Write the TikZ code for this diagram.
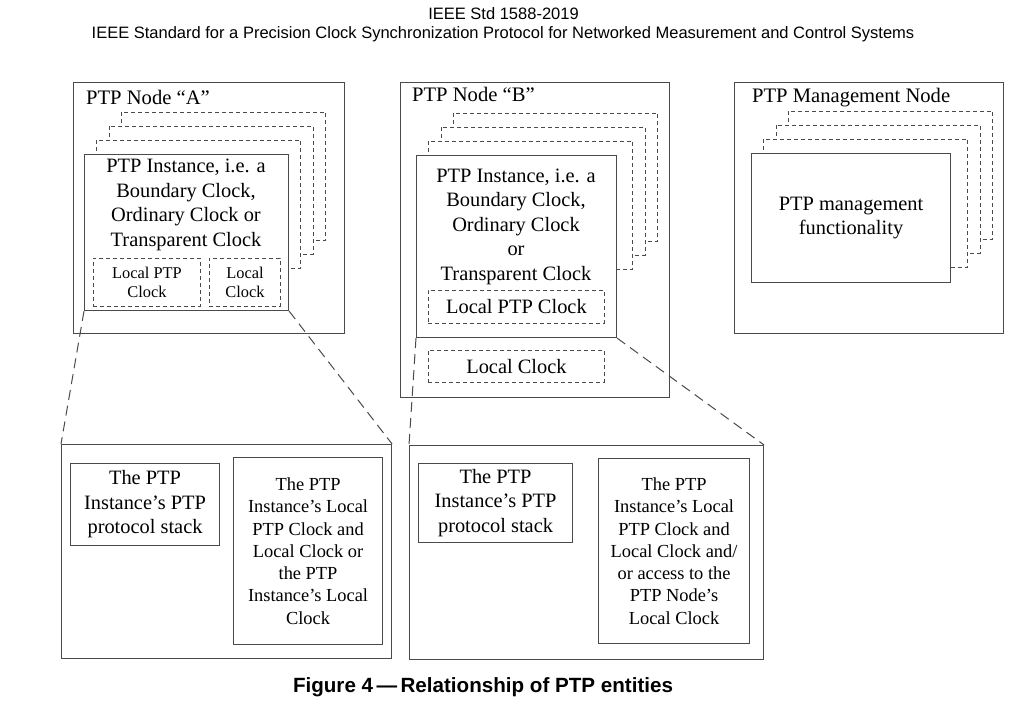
\documentclass[tikz,border=0pt]{standalone}
\usepackage{fontspec}
\setmainfont{Liberation Serif}
\setsansfont{Liberation Sans}
\usetikzlibrary{positioning}
\definecolor{linegray}{HTML}{4A4A4A}
\tikzset{
  box/.style={draw=linegray, line width=1.1pt, inner sep=0pt, anchor=north west, fill=white},
  backcopy/.style={draw=linegray, dash pattern=on 4pt off 3pt, line width=0.9pt, fill=white},
  clockbox/.style={box, dash pattern=on 4pt off 3pt, line width=0.9pt},
  zoomline/.style={draw=linegray, dash pattern=on 10pt off 6pt, line width=1pt},
  nodetitle/.style={font=\fontsize{20.6}{24.5}\selectfont, anchor=base west, inner sep=0pt},
  txt/.style={align=center, font=\fontsize{20.4}{24.5}\selectfont},
  smalltxt/.style={align=center, font=\fontsize{18.4}{22.3}\selectfont},
  tinytxt/.style={align=center, font=\fontsize{16.4}{19.7}\selectfont},
}
\begin{document}
\begin{tikzpicture}[x=1pt,y=-1pt]
  \useasboundingbox (0,0) rectangle (1021,713);
  % header and caption
  \node[font=\sffamily\fontsize{16.5}{19}\selectfont, anchor=base] (std) at (503.5,19) {IEEE Std 1588-2019};
  \node[font=\sffamily\fontsize{16.5}{19}\selectfont, anchor=base] (title) at (503,38)
    {IEEE Standard for a Precision Clock Synchronization Protocol for Networked Measurement and Control Systems};
  \node[font=\sffamily\bfseries\fontsize{20.6}{24}\selectfont, anchor=base] (caption) at (483,692)
    {Figure 4\,—\,Relationship of PTP entities};

  % PTP Node "A"
  \node[box, minimum width=271pt, minimum height=251pt] (nodeA) at (73,82) {};
  \node[nodetitle] (nodeAtitle) at (86,104) {PTP Node “A”};
  \foreach \i in {3,2,1}
    \draw[backcopy] (84+12.5*\i,154-14*\i) rectangle ++(204,128);
  \node[box, minimum width=204pt, minimum height=156pt] (instA) at (84,154) {};
  \node[txt] (instAtext) at (186,205) {PTP Instance, i.e. a\\Boundary Clock,\\Ordinary Clock or\\Transparent Clock};
  \node[clockbox, minimum width=107pt, minimum height=48pt, tinytxt] (lpcA) at (93,258) {Local PTP\\Clock};
  \node[clockbox, minimum width=71pt, minimum height=48pt, tinytxt] (lcA) at (209,258) {Local\\Clock};

  % PTP Node "B"
  \node[box, minimum width=269pt, minimum height=315pt] (nodeB) at (400,82) {};
  \node[nodetitle] (nodeBtitle) at (412,101) {PTP Node “B”};
  \foreach \i in {3,2,1}
    \draw[backcopy] (416+12.5*\i,155-14*\i) rectangle ++(204,128);
  \node[box, minimum width=200pt, minimum height=182pt] (instB) at (416,155) {};
  \node[txt] (instBtext) at (516,226.5) {PTP Instance, i.e. a\\Boundary Clock,\\Ordinary Clock\\or\\Transparent Clock};
  \node[clockbox, minimum width=176pt, minimum height=33pt, txt] (lpcB) at (428,290) {Local PTP Clock};
  \node[clockbox, minimum width=176pt, minimum height=32pt, txt] (lcB) at (428,350) {Local Clock};

  % PTP Management Node
  \node[box, minimum width=269pt, minimum height=251pt] (nodeM) at (734,82) {};
  \node[nodetitle] (nodeMtitle) at (752,102) {PTP Management Node};
  \foreach \i in {3,2,1}
    \draw[backcopy] (751+12.5*\i,153-14*\i) rectangle ++(204,128);
  \node[box, minimum width=199pt, minimum height=129pt, txt] (instM) at (751,153) {PTP management\\functionality};

  % zoomed views
  \node[box, minimum width=330pt, minimum height=214pt] (zoomA) at (61,444) {};
  \node[box, minimum width=149pt, minimum height=82pt, txt] (stackA) at (70,463)
    {The PTP\\Instance’s PTP\\protocol stack};
  \node[box, minimum width=149pt, minimum height=187pt, smalltxt] (clocksA) at (233,457)
    {The PTP\\Instance’s Local\\PTP Clock and\\Local Clock or\\the PTP\\Instance’s Local\\Clock};
  \node[box, minimum width=354pt, minimum height=214pt] (zoomB) at (409,445) {};
  \node[box, minimum width=154pt, minimum height=79pt, txt] (stackB) at (418,463)
    {The PTP\\Instance’s PTP\\protocol stack};
  \node[box, minimum width=151pt, minimum height=185pt, smalltxt] (clocksB) at (598,458)
    {The PTP\\Instance’s Local\\PTP Clock and\\Local Clock and/\\or access to the\\PTP Node’s\\Local Clock};

  \draw[zoomline] (instA.south west) -- (zoomA.north west)
                  (instA.south east) -- (zoomA.north east)
                  (instB.south west) -- (zoomB.north west)
                  (instB.south east) -- (zoomB.north east);
\end{tikzpicture}
\end{document}
